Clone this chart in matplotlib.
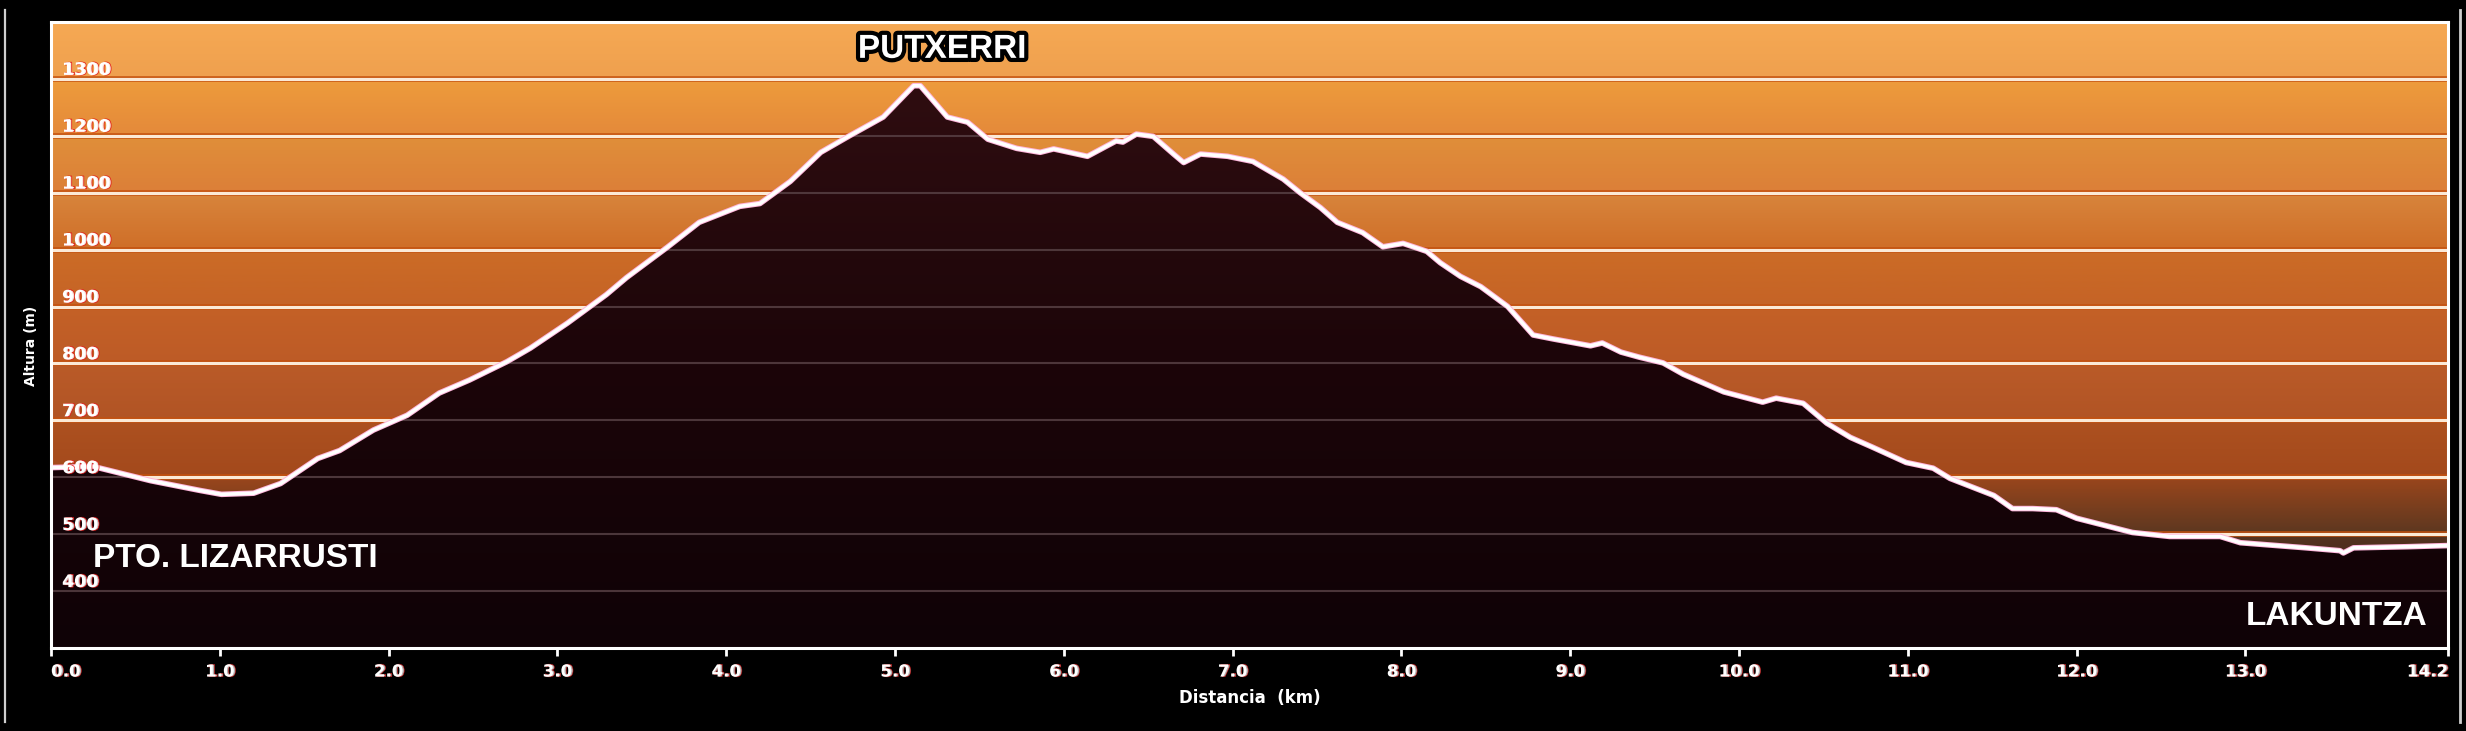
import numpy as np
import matplotlib
matplotlib.use("Agg")
import matplotlib.pyplot as plt
import matplotlib.patheffects as pe
from matplotlib.patches import Polygon
from matplotlib.colors import to_rgb, LinearSegmentedColormap

# Profile (km, m)
dist_km = [0.00, 0.25, 0.59, 0.88, 1.01, 1.20, 1.36, 1.58, 1.71, 1.91,
           2.11, 2.30, 2.48, 2.70, 2.84, 3.06, 3.29, 3.41, 3.65, 3.84,
           4.08, 4.20, 4.38, 4.56, 4.73, 4.93, 5.11, 5.15, 5.31, 5.43,
           5.55, 5.72, 5.86, 5.94, 6.14, 6.31, 6.35, 6.43, 6.53, 6.65,
           6.71, 6.81, 6.97, 7.12, 7.30, 7.40, 7.52, 7.62, 7.77, 7.89,
           8.01, 8.15, 8.23, 8.35, 8.47, 8.63, 8.78, 8.90, 9.12, 9.19,
           9.30, 9.41, 9.55, 9.67, 9.91, 10.14, 10.22, 10.38, 10.52, 10.66,
           10.79, 10.99, 11.15, 11.25, 11.51, 11.62, 11.74, 11.88, 12.00, 12.33,
           12.55, 12.85, 12.97, 13.36, 13.56, 13.58, 13.64, 13.96, 14.20]
elev_m = [617, 619, 594, 577, 570, 572, 589, 633, 647, 683,
          709, 748, 771, 803, 827, 871, 921, 951, 1004, 1048,
          1076, 1081, 1120, 1171, 1200, 1233, 1288, 1288, 1233, 1224,
          1194, 1178, 1171, 1177, 1164, 1191, 1189, 1203, 1199, 1168,
          1153, 1168, 1164, 1155, 1124, 1100, 1074, 1048, 1030, 1005,
          1011, 997, 977, 953, 935, 900, 850, 843, 831, 836,
          820, 811, 801, 781, 750, 732, 739, 730, 695, 670,
          653, 626, 616, 598, 568, 545, 545, 543, 528, 503,
          496, 496, 485, 476, 471, 467, 476, 478, 480]

x_ticks = [0, 1, 2, 3, 4, 5, 6, 7, 8, 9, 10, 11, 12, 13, 14.2]
x_tick_labels = ["0.0", "1.0", "2.0", "3.0", "4.0", "5.0", "6.0", "7.0",
                 "8.0", "9.0", "10.0", "11.0", "12.0", "13.0", "14.2"]
y_levels = [400, 500, 600, 700, 800, 900, 1000, 1100, 1200, 1300]

start_name = "PTO. LIZARRUSTI"
peak_name = "PUTXERRI"
end_name = "LAKUNTZA"

XMIN, XMAX = 0, 14.2
YMIN, YMAX = 300, 1400

# band colours from top (1300-1400) to bottom (300-400): (top, bottom)
bands = [("#f6a954", "#efa04e"), ("#ee9c3c", "#e4893a"), ("#e08f3a", "#dc7f38"),
         ("#d8853c", "#cf6e28"), ("#cc6c26", "#c56326"), ("#c46126", "#bd5b27"),
         ("#ba5b28", "#b15425"), ("#ad5120", "#a3491c"), ("#9a461c", "#5c3720"),
         ("#563320", "#3a2218"), ("#2e1a12", "#1e100c")]

fig = plt.figure(figsize=(24.66, 7.31), dpi=100, facecolor="black")
W, H = 2466, 731
ax = fig.add_axes([51 / W, 1 - 648 / H, (2448 - 51) / W, (648 - 22) / H])
ax.set_xlim(XMIN, XMAX)
ax.set_ylim(YMIN, YMAX)

# banded background
rows = []
for top, bot in bands:
    t = np.linspace(0, 1, 100)[:, None]
    rows.append(np.array(to_rgb(top)) * (1 - t) + np.array(to_rgb(bot)) * t)
bg = np.concatenate(rows)[:, None, :].repeat(2, axis=1)
ax.imshow(bg, extent=[XMIN, XMAX, YMIN, YMAX], aspect="auto", origin="upper",
          interpolation="bilinear", zorder=0)

# grid over the sky
for v in y_levels:
    ax.axhline(v, color="#fbe9d6", lw=2.2, zorder=1,
               path_effects=[pe.Stroke(linewidth=4.2, foreground="#c4500e", alpha=0.8), pe.Normal()])

# terrain fill with gradient
verts = np.column_stack([dist_km, elev_m])
verts = np.vstack([verts, [[dist_km[-1], YMIN], [dist_km[0], YMIN]]])
terrain = Polygon(verts, closed=True, facecolor="none", edgecolor="none", transform=ax.transData)
ax.add_patch(terrain)
cmap = LinearSegmentedColormap.from_list("terrain", ["#2f0d10", "#1c0509", "#0f0206"])
grad = np.linspace(0, 1, 256).reshape(-1, 1)
im = ax.imshow(grad, cmap=cmap, extent=[XMIN, XMAX, YMIN, 1295], aspect="auto",
               origin="upper", interpolation="bilinear", zorder=2)
im.set_clip_path(terrain)

# faint grid inside the terrain
for v in y_levels:
    gl = ax.axhline(v, color="#5a4347", lw=1.5, alpha=0.8, zorder=3)
    gl.set_clip_path(terrain)

# profile line
ax.plot(dist_km, elev_m, color="white", lw=2.6, zorder=5, solid_joinstyle="round",
        path_effects=[pe.Stroke(linewidth=4.0, foreground="#ffb6dc"), pe.Normal()])
ax.set_ylim(YMIN, YMAX)

# y labels inside the plot
fringe = [pe.Stroke(linewidth=0.6, foreground="#e00000", offset=(1.2, 0), alpha=0.8), pe.Normal()]
for v in y_levels:
    ax.annotate(str(v), xy=(XMIN, v), xytext=(11, 4), textcoords="offset pixels",
                ha="left", va="baseline", color="white", fontsize=12.5, fontweight="bold",
                family="DejaVu Sans", zorder=6, path_effects=fringe)

# x axis
ax.set_xticks(x_ticks)
ax.set_xticklabels(x_tick_labels)
ax.set_yticks([])
ax.tick_params(axis="x", colors="white", length=5.5, width=2, pad=5, labelsize=12)
for lab in ax.get_xticklabels():
    lab.set_fontweight("bold")
    lab.set_path_effects([pe.Stroke(linewidth=0.5, foreground="#e00000", offset=(1.2, 0), alpha=0.7),
                          pe.Normal()])
labs = ax.get_xticklabels()
labs[0].set_ha("left")
labs[-1].set_ha("right")
for s in ax.spines.values():
    s.set_color("white")
    s.set_linewidth(2.2)
    s.set_zorder(7)

ax.set_xlabel("Distancia  (km)", color="white", fontsize=12, fontweight="bold", labelpad=6)
fig.text(31 / W, 1 - 346 / H, "Altura (m)", rotation=90, color="white", fontsize=10,
         fontweight="bold", ha="center", va="center")

# place names
ax.text(0.25, 443, start_name, color="white", fontsize=24, fontweight="bold",
        family="Liberation Sans", ha="left", va="baseline", zorder=6)
ax.text(14.08, 341, end_name, color="white", fontsize=24, fontweight="bold",
        family="Liberation Sans", ha="right", va="baseline", zorder=6)
ax.text(5.28, 1337, peak_name, color="white", fontsize=24, fontweight="bold",
        family="Liberation Sans", ha="center", va="baseline", zorder=6,
        path_effects=[pe.Stroke(linewidth=6, foreground="black"), pe.Normal()])

# outer frame lines
fig.add_artist(plt.Line2D([5 / W, 5 / W], [1 - 722 / H, 1 - 10 / H], color="#cfcfcf", lw=1.6))
fig.add_artist(plt.Line2D([2460 / W, 2460 / W], [1 - 722 / H, 1 - 10 / H], color="#cfcfcf", lw=2))

fig.savefig("out.png", dpi=100, facecolor="black")
